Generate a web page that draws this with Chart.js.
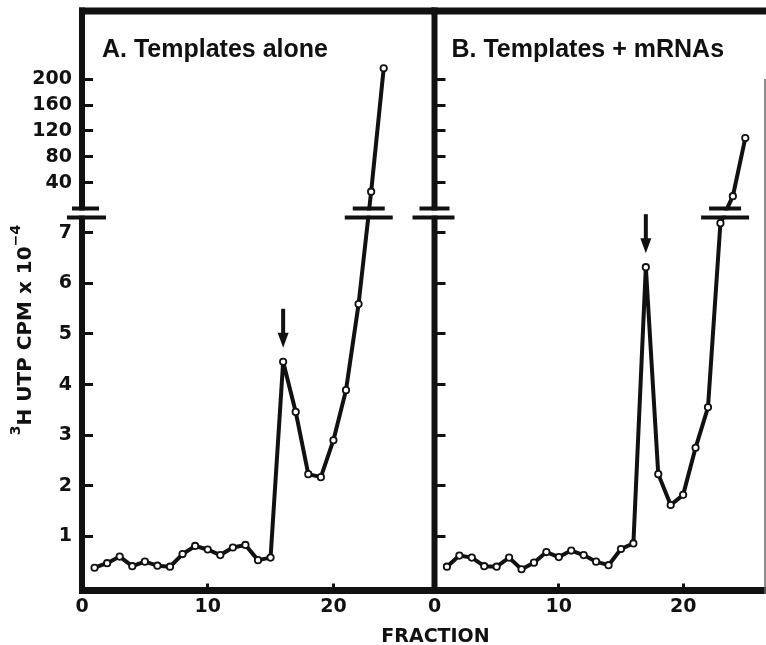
<!DOCTYPE html>
<html>
<head>
<meta charset="utf-8">
<script src="https://cdn.jsdelivr.net/npm/chart.js@4.4.0/dist/chart.umd.min.js"></script>
<style>
  body { margin: 0; background: #fff; }
  #wrap { position: relative; width: 766px; height: 645px; }
  canvas { position: absolute; left: 0; top: 0; }
</style>
</head>
<body>
<div id="wrap">
  <canvas id="chartA" width="766" height="645"></canvas>
  <canvas id="chartB" width="766" height="645"></canvas>
</div>
<script>
// A. Templates alone  (lower scale x 10^-4, upper scale above the break)
const fractionsA = [1, 2, 3, 4, 5, 6, 7, 8, 9, 10, 11, 12, 13, 14, 15, 16, 17, 18, 19, 20, 21, 22];
const countsA = [0.38, 0.47, 0.60, 0.41, 0.50, 0.42, 0.40, 0.65, 0.81, 0.74, 0.63, 0.78, 0.83, 0.53, 0.58, 4.45, 3.46, 2.23, 2.17, 2.90, 3.89, 5.59];
const fractionsAHigh = [23, 24];
const countsAHigh = [26, 217];
const peakA = 16;

// B. Templates + mRNAs
const fractionsB = [1, 2, 3, 4, 5, 6, 7, 8, 9, 10, 11, 12, 13, 14, 15, 16, 17, 18, 19, 20, 21, 22, 23];
const countsB = [0.40, 0.62, 0.58, 0.41, 0.40, 0.58, 0.35, 0.48, 0.69, 0.59, 0.72, 0.63, 0.50, 0.43, 0.75, 0.86, 6.32, 2.23, 1.62, 1.82, 2.75, 3.55, 7.19];
const fractionsBHigh = [24, 25];
const countsBHigh = [19, 109];
const peakB = 17;

const xTicks = [0, 10, 20];
const lowTicks = [1, 2, 3, 4, 5, 6, 7];
const highTicks = [40, 80, 120, 160, 200];

const INK = '#111';
const NUM_FONT = { family: "'DejaVu Sans', sans-serif", size: 19, weight: 'bold' };

function pts(xs, ys) {
  return xs.map((x, i) => ({ x, y: ys[i] }));
}

function stroke(ctx, x1, y1, x2, y2, w) {
  ctx.lineWidth = w;
  ctx.beginPath();
  ctx.moveTo(x1, y1);
  ctx.lineTo(x2, y2);
  ctx.stroke();
}

// keep tick labels from pushing the plot area around
function noPad(s) {
  s.paddingTop = 0;
  s.paddingBottom = 0;
  s.paddingLeft = 0;
  s.paddingRight = 0;
}

function lineSet(data) {
  return {
    data,
    borderColor: INK,
    borderWidth: 4,
    borderJoinStyle: 'round',
    borderCapStyle: 'round',
    tension: 0,
    fill: false,
    pointRadius: 3.2,
    pointBorderWidth: 1.8,
    pointBackgroundColor: '#fff',
    pointBorderColor: INK,
    yAxisID: 'yLow'
  };
}

function buildPanel(canvasId, p) {
  const decor = {
    id: 'decor',
    beforeDatasetsDraw(chart) {
      // segment running through the axis break
      const a = chart.getDatasetMeta(0).data.at(-1);
      const b = chart.getDatasetMeta(1).data[0];
      const ctx = chart.ctx;
      ctx.save();
      ctx.strokeStyle = INK;
      ctx.lineCap = 'round';
      stroke(ctx, a.x, a.y, b.x, b.y, 4);
      ctx.restore();
    },
    afterDatasetsDraw(chart) {
      const { ctx, chartArea: area, scales } = chart;
      const breakTop = scales.yHigh.getPixelForValue(0);
      const breakBot = scales.yLow.top;
      const right = p.frameRight;
      ctx.save();
      ctx.strokeStyle = INK;

      // frame
      stroke(ctx, area.left - 3, area.top, right, area.top, 7);
      stroke(ctx, area.left, area.top - 3.5, area.left, area.bottom + 3.5, 6);
      stroke(ctx, area.left - 3, area.bottom, right, area.bottom, 7);

      // open the break
      ctx.fillStyle = '#fff';
      ctx.fillRect(area.left - 25, breakTop + 2, right - area.left + 25, breakBot - breakTop - 4);

      if (p.rightEdge) {
        ctx.strokeStyle = '#666';
        stroke(ctx, 765, 79, 765, area.bottom + 3.5, 1.5);
        ctx.strokeStyle = INK;
      }

      // break bars on the axis
      const ax = area.left;
      stroke(ctx, ax + p.barHi[0], breakTop, ax + p.barHi[1], breakTop, 4);
      stroke(ctx, ax + p.barLo[0], breakBot, ax + p.barLo[1], breakBot, 4);

      // break bars on the curve
      const a = chart.getDatasetMeta(0).data.at(-1);
      const b = chart.getDatasetMeta(1).data[0];
      const mid = (breakTop + breakBot) / 2;
      const cx = a.x + (b.x - a.x) * (a.y - mid) / (a.y - b.y);
      stroke(ctx, cx - 16, breakTop, cx + 16, breakTop, 4);
      stroke(ctx, cx - 24, breakBot, cx + 24, breakBot, 4);

      // arrow over the peak
      const meta = chart.getDatasetMeta(0);
      const pk = meta.data[chart.data.datasets[0].data.findIndex(d => d.x === p.peak)];
      const tip = pk.y - 14;
      stroke(ctx, pk.x, tip - 39, pk.x, tip - 12, 4);
      ctx.fillStyle = INK;
      ctx.beginPath();
      ctx.moveTo(pk.x - 5.5, tip - 15);
      ctx.lineTo(pk.x + 5.5, tip - 15);
      ctx.lineTo(pk.x, tip);
      ctx.closePath();
      ctx.fill();

      // panel heading
      ctx.fillStyle = INK;
      ctx.font = "bold 25px 'Liberation Sans', Arial, sans-serif";
      ctx.textBaseline = 'alphabetic';
      ctx.textAlign = 'left';
      ctx.fillText(p.title, area.left + p.titleDx, 56.5);

      if (p.axisTitles) {
        ctx.font = "bold 19px 'DejaVu Sans', sans-serif";
        ctx.textAlign = 'center';
        ctx.fillText('FRACTION', 435.5, 642);

        // rotated y title with superscripts
        ctx.save();
        ctx.translate(25.5, 330);
        ctx.rotate(-Math.PI / 2);
        ctx.textAlign = 'left';
        ctx.textBaseline = 'middle';
        const main = "bold 20px 'DejaVu Sans', sans-serif";
        const sup = "bold 14px 'DejaVu Sans', sans-serif";
        const parts = [['3', sup, -9], ['H UTP CPM x 10', main, 0], ['\u22124', sup, -9]];
        let total = 0;
        parts.forEach(([t, f]) => { ctx.font = f; total += ctx.measureText(t).width; });
        let x = -total / 2;
        parts.forEach(([t, f, dy]) => {
          ctx.font = f;
          ctx.fillText(t, x, dy);
          x += ctx.measureText(t).width;
        });
        ctx.restore();
      }
      ctx.restore();
    }
  };

  const tickGrid = (len) => ({
    display: true,
    drawOnChartArea: false,
    drawTicks: true,
    tickLength: len,
    tickWidth: 3,
    tickColor: INK
  });

  return new Chart(document.getElementById(canvasId), {
    type: 'line',
    data: {
      datasets: [
        lineSet(pts(p.fr, p.val)),
        Object.assign(lineSet(pts(p.frHigh, p.valHigh)), { yAxisID: 'yHigh' })
      ]
    },
    options: {
      responsive: false,
      animation: false,
      devicePixelRatio: 1,
      layout: { padding: { top: 11, right: p.padRight, left: 0, bottom: 0 } },
      plugins: { legend: { display: false }, tooltip: { enabled: false }, title: { display: false } },
      scales: {
        x: {
          type: 'linear',
          min: 0,
          max: p.xMax,
          grid: tickGrid(-7),
          border: { display: false },
          afterBuildTicks: s => { s.ticks = xTicks.map(v => ({ value: v })); },
          afterFit: s => { s.height = 54.5; noPad(s); },
          ticks: { font: NUM_FONT, color: INK, padding: 12, maxRotation: 0, autoSkip: false }
        },
        yLow: {
          type: 'linear',
          position: 'left',
          stack: 'v',
          stackWeight: 372.9,
          weight: 0,
          min: -0.07,
          max: 7.3,
          grid: tickGrid(-11),
          border: { display: false },
          afterBuildTicks: s => { s.ticks = lowTicks.map(v => ({ value: v })); },
          afterFit: s => { s.width = p.axisWidth; noPad(s); },
          ticks: { display: p.axisTitles, font: NUM_FONT, color: INK, padding: 21 }
        },
        yHigh: {
          type: 'linear',
          position: 'left',
          stack: 'v',
          stackWeight: 206.6,
          weight: 1,
          min: -14.1,
          max: 305.6,
          grid: tickGrid(-11),
          border: { display: false },
          afterBuildTicks: s => { s.ticks = highTicks.map(v => ({ value: v })); },
          afterFit: s => { s.width = p.axisWidth; noPad(s); },
          ticks: { display: p.axisTitles, font: NUM_FONT, color: INK, padding: 21 }
        }
      }
    },
    plugins: [decor]
  });
}

buildPanel('chartA', {
  fr: fractionsA, val: countsA, frHigh: fractionsAHigh, valHigh: countsAHigh,
  peak: peakA, title: 'A. Templates alone', titleDx: 20,
  axisWidth: 82, padRight: 332, xMax: 28, frameRight: 434,
  barHi: [-10, 17], barLo: [-15, 24], axisTitles: true, rightEdge: false
});

buildPanel('chartB', {
  fr: fractionsB, val: countsB, frHigh: fractionsBHigh, valHigh: countsBHigh,
  peak: peakB, title: 'B. Templates + mRNAs', titleDx: 17,
  axisWidth: 434.5, padRight: 1, xMax: 26.2, frameRight: 766,
  barHi: [-15, 15], barLo: [-22, 20], axisTitles: false, rightEdge: true
});
</script>
</body>
</html>
